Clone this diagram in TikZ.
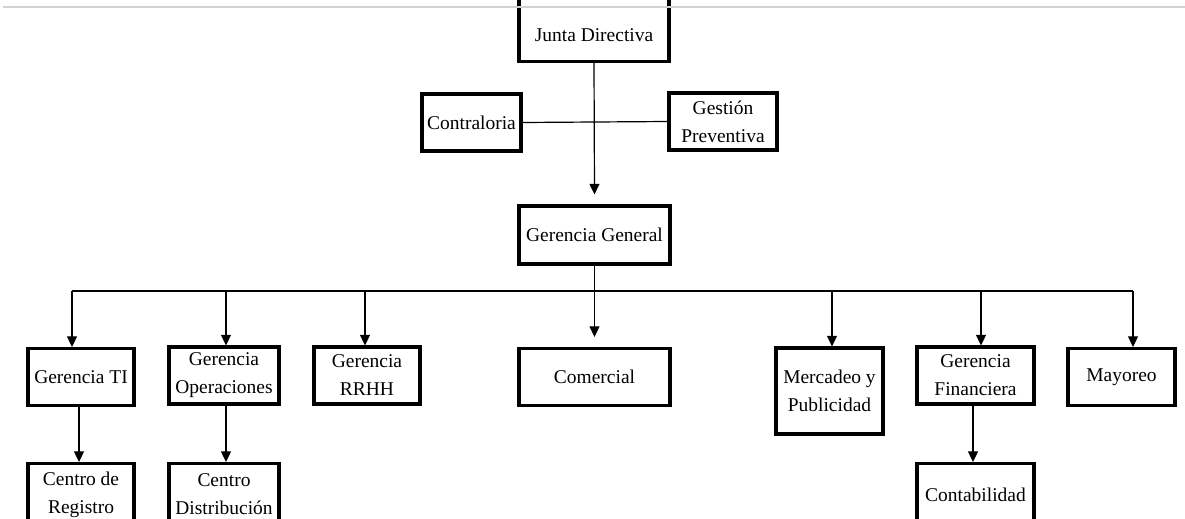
\documentclass[tikz,border=0pt]{standalone}
\usepackage{fontspec}
\setmainfont{Liberation Serif}
\usetikzlibrary{arrows.meta,calc}
\begin{document}
\begin{tikzpicture}[x=0.75pt,y=-0.75pt,
 box/.style={draw, line width=2.3pt, inner sep=0pt, align=center, font=\fontsize{14.6}{21}\selectfont},
 conn/.style={line width=0.9pt},
 arr/.style={conn,-{Triangle[length=8pt,width=7.5pt]}}]
\useasboundingbox[fill=white] (0,0) rectangle (1185,518);
% top level
\node[box, anchor=south, minimum width=112.5pt, text height=36.2pt, text depth=14.8pt, inner ysep=0pt] (jd) at (594,63) {Junta Directiva};
\node[box, minimum width=74.25pt, minimum height=42.75pt] (con) at (471.5,122.5) {Contraloria};
\node[box, minimum width=81pt, minimum height=42.75pt] (gp) at (723,121.5) {Gestión\\Preventiva};
\node[box, minimum width=113.25pt, minimum height=43.5pt] (gg) at (594.5,235) {Gerencia General};
% second level
\node[box, minimum width=79.5pt, minimum height=42.75pt] (ti) at (81,377) {Gerencia TI};
\node[box, minimum width=82.5pt, minimum height=42.75pt] (op) at (224,375.5) {Gerencia\\Operaciones};
\node[box, minimum width=79.5pt, minimum height=42.75pt] (rh) at (367,375.5) {Gerencia\\RRHH};
\node[box, minimum width=113.25pt, minimum height=42.75pt] (com) at (594.5,377) {Comercial};
\node[box, minimum width=80.25pt, minimum height=64.5pt] (mp) at (829.5,391) {Mercadeo y\\Publicidad};
\node[box, minimum width=87.75pt, minimum height=42.75pt] (gf) at (975.5,375.5) {Gerencia\\Financiera};
\node[box, minimum width=80.25pt, minimum height=42.75pt] (may) at (1121.5,377) {Mayoreo};
% third level
\node[box, anchor=north, minimum width=79.5pt, minimum height=46.5pt] (cr) at (81,462) {Centro de\\Registro};
\node[box, anchor=north, minimum width=82.5pt, minimum height=46.5pt] (cd) at (224,462) {Centro\\Distribución};
\node[box, anchor=north, minimum width=87.75pt, minimum height=46.5pt] (cont) at (975.5,462) {Contabilidad};
% top gray rule
\draw[gray!35, line width=1.2pt] (3,7) -- (1185,7);
% connectors
\draw[arr] (jd.south) -- ($(gg.north)+(0,-10)$);
\draw[conn] (con.east) -- (gp.west);
\draw[arr] (gg.south) -- ($(com.north)+(0,-10)$);
\coordinate (bl) at (72,291);
\coordinate (br) at (1133,291);
\draw[conn] (bl) -- (br);
\coordinate (b2) at (226,291);
\coordinate (b3) at (365,291);
\coordinate (b5) at (832,291);
\coordinate (b6) at (981,291);
\draw[arr] (bl) -- (bl |- ti.north);
\draw[arr] (b2) -- (b2 |- op.north);
\draw[arr] (b3) -- (b3 |- rh.north);
\draw[arr] (b5) -- (b5 |- mp.north);
\draw[arr] (b6) -- (b6 |- gf.north);
\draw[arr] (br) -- (br |- may.north);
\coordinate (x1) at (79,0);
\coordinate (x2) at (226,0);
\coordinate (x3) at (973,0);
\draw[arr] (ti.south -| x1) -- (cr.north -| x1);
\draw[arr] (op.south -| x2) -- (cd.north -| x2);
\draw[arr] (gf.south -| x3) -- (cont.north -| x3);
\end{tikzpicture}
\end{document}
